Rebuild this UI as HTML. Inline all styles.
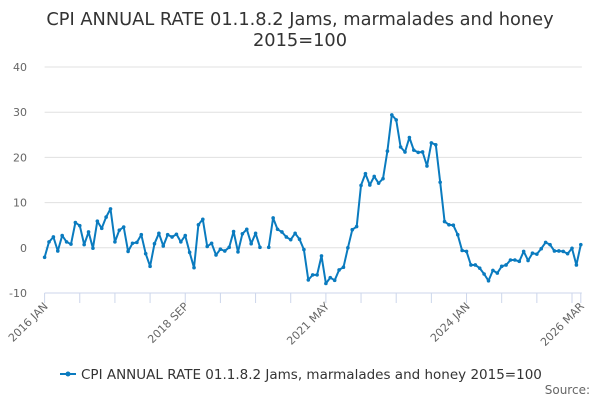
<!DOCTYPE html>
<html><head><meta charset="utf-8"><style>
body{margin:0;background:#fff;font-family:"Liberation Sans","DejaVu Sans",sans-serif}
svg text{font-family:"DejaVu Sans","Liberation Sans",sans-serif}
</style></head><body>
<svg id="chart" width="600" height="400" viewBox="0 0 600 400">
<text x="300" y="25" text-anchor="middle" font-size="17.8" fill="#333">CPI ANNUAL RATE 01.1.8.2 Jams, marmalades and honey</text>
<text x="300" y="46" text-anchor="middle" font-size="17.8" fill="#333">2015=100</text>
<g id="grid"></g><g id="xaxis"></g><g id="series"></g>
<g>
<line x1="60" y1="374" x2="76" y2="374" stroke="#0a7bbf" stroke-width="2"/>
<circle cx="68" cy="374" r="2.5" fill="#0a7bbf"/>
<text x="81" y="379" font-size="13.5" fill="#333">CPI ANNUAL RATE 01.1.8.2 Jams, marmalades and honey 2015=100</text>
</g>
<text x="590" y="394" text-anchor="end" font-size="12" fill="#666">Source:</text>
</svg>
<script>
const yTicks=[40,30,20,10,0,-10];
const xLabels=["2016 JAN","2018 SEP","2021 MAY","2024 JAN","2026 MAR"];
const xLabelIdx=[0,32,64,96,122];
const values=[-2.1,1.3,2.4,-0.7,2.7,1.3,0.8,5.6,4.9,0.7,3.5,-0.1,
5.9,4.3,6.8,8.6,1.3,3.9,4.6,-0.8,1,1.2,2.9,-1.3,
-4.1,0.9,3.2,0.4,2.9,2.4,3,1.3,2.7,-1,-4.4,5.1,
6.3,0.3,1,-1.6,-0.3,-0.7,0.1,3.6,-0.9,3.1,4.1,0.9,
3.2,0.1,null,0.1,6.6,4.1,3.5,2.4,1.8,3.2,1.9,-0.4,
-7.1,-6,-6,-1.8,-7.9,-6.6,-7.2,-4.9,-4.3,0,4,4.7,
13.8,16.4,13.9,15.8,14.3,15.3,21.4,29.4,28.3,22.3,21.2,24.4,
21.6,21.1,21.2,18.1,23.2,22.8,14.5,5.8,5.1,5,2.9,-0.6,
-0.8,-3.8,-3.8,-4.5,-5.8,-7.3,-5,-5.6,-4.1,-3.8,-2.7,-2.7,
-3,-0.8,-2.8,-1.2,-1.4,-0.2,1.2,0.7,-0.7,-0.7,-0.8,-1.3,
-0.1,-3.8,0.7];
const NS="http://www.w3.org/2000/svg";
const X0=44.6,X1=580.8,Y0=293,Y1=67;
const xs=i=>X0+i*(X1-X0)/(values.length-1);
const ys=v=>Y0-(v+10)*(Y0-Y1)/50;
function mk(t,a,p){const e=document.createElementNS(NS,t);for(const k in a)e.setAttribute(k,a[k]);p.appendChild(e);return e;}
const grid=document.getElementById('grid');
yTicks.forEach(v=>{
 if(v!==-10){const l=mk('line',{x1:X0,x2:X1+1,y1:ys(v),y2:ys(v),stroke:'#e0e0e0','stroke-width':1},grid);
 
 }
 const t=mk('text',{x:27,y:ys(v)+4,'text-anchor':'end','font-size':11,fill:'#666'},grid);
 t.textContent=v;
 
 
});
const xa=document.getElementById('xaxis');
const ax=mk('line',{x1:X0,x2:X1+1,y1:Y0,y2:Y0,stroke:'#ccd6eb','stroke-width':1},xa);


for(let i=0;i<=values.length-1;i+=8){
 const tk=mk('line',{x1:xs(i),x2:xs(i),y1:Y0,y2:Y0+10,stroke:'#ccd6eb'},xa);
 
 
}
const tkl=mk('line',{x1:xs(values.length-1),x2:xs(values.length-1),y1:Y0,y2:Y0+10,stroke:'#ccd6eb'},xa);


xLabels.forEach((s,k)=>{
 const x=xs(xLabelIdx[k])+4,y=Y0+14;
 const t=mk('text',{x:x,y:y,'text-anchor':'end','font-size':11,fill:'#666',transform:`rotate(-45 ${x} ${y})`},xa);
 t.textContent=s;
 
 
});
const sg=document.getElementById('series');
let d='',pen=false;
values.forEach((v,i)=>{if(v===null){pen=false;return;}d+=(pen?'L':'M')+xs(i).toFixed(1)+' '+ys(v).toFixed(1);pen=true;});
const p=mk('path',{d:d,fill:'none',stroke:'#0a7bbf','stroke-width':2,'stroke-linejoin':'round'},sg);


values.forEach((v,i)=>{if(v===null)return;
 const c=mk('circle',{cx:xs(i),cy:ys(v),r:1.8,fill:'#0a7bbf'},sg);
 
 
});
</script>
</body></html>
